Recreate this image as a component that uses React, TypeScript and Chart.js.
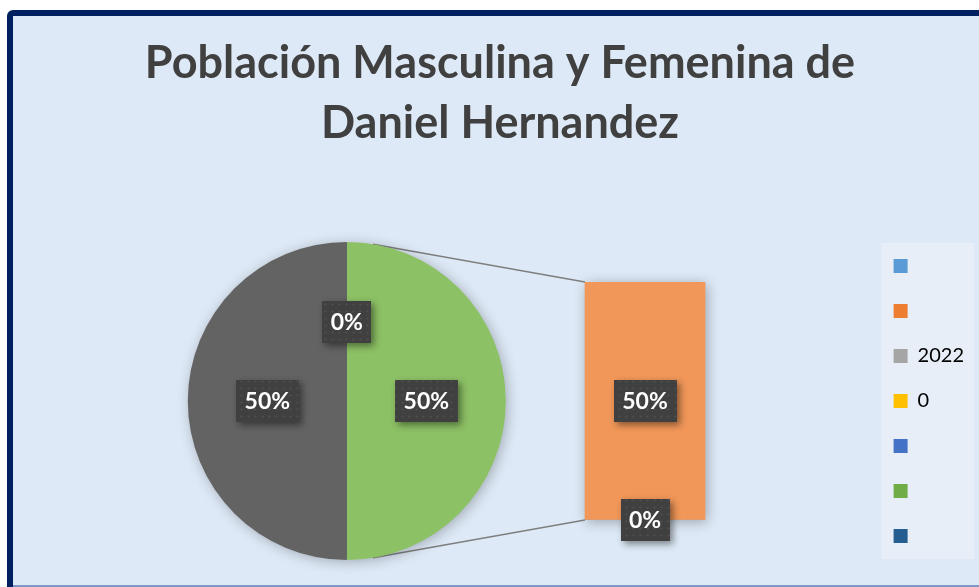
import React, { useEffect, useRef } from "react";
import { Chart, registerables } from "chart.js";

Chart.register(...registerables);

// ---------- data ----------
const titleLines = ["Población Masculina y Femenina de", "Daniel Hernandez"];

const legendLabels = ["", "", "2022", "0", "", "", ""];
const legendColors = ["#5b9bd5", "#ed7d31", "#a5a5a5", "#ffc000", "#4472c4", "#70ad47", "#255e91"];

const pieSliceLabels = ["0", "Otro", "2022"];
const pieSliceValues = [0, 50, 50];
const pieSliceColors = ["#ffc000", "#8dc165", "#636363"];

const barCategory = ["Otro"];
const barSegmentLabels = ["", "0"];
const barSegmentValues = [0, 50];
const barSegmentColors = ["#a5a5a5", "#f19759"];

// ---------- styling / layout ----------
const W = 979;
const H = 587;
const PIE_LEFT = -175; // page x of the pie canvas
const PIE_W = W - PIE_LEFT;
const FONT = "Lato";
const CONNECTOR_INSET = 0.165;

const pieTotal = pieSliceValues.reduce((a, b) => a + b, 0);
const pct = (v: number) => Math.round((v / pieTotal) * 100) + "%";

let dotPattern: CanvasPattern | null = null;
function getPattern(ctx: CanvasRenderingContext2D) {
  if (dotPattern) return dotPattern;
  const c = document.createElement("canvas");
  c.width = 7;
  c.height = 7;
  const g = c.getContext("2d")!;
  g.fillStyle = "rgba(255,255,255,0.09)";
  g.beginPath();
  g.arc(3.5, 3.5, 1.1, 0, Math.PI * 2);
  g.fill();
  dotPattern = ctx.createPattern(c, "repeat");
  return dotPattern;
}

function drawLabel(ctx: CanvasRenderingContext2D, text: string, cx: number, cy: number) {
  ctx.save();
  ctx.font = `bold 23px ${FONT}`;
  const tw = ctx.measureText(text).width;
  const w = Math.round(tw + 17);
  const h = 42;
  const x = Math.round(cx - w / 2);
  const y = Math.round(cy - h / 2);
  ctx.shadowColor = "rgba(0,0,0,0.45)";
  ctx.shadowBlur = 7;
  ctx.shadowOffsetX = 3;
  ctx.shadowOffsetY = 3;
  ctx.fillStyle = "#404040";
  ctx.fillRect(x, y, w, h);
  ctx.shadowColor = "transparent";
  const p = getPattern(ctx);
  if (p) {
    ctx.fillStyle = p;
    ctx.fillRect(x, y, w, h);
  }
  ctx.fillStyle = "#ffffff";
  ctx.textAlign = "center";
  ctx.textBaseline = "middle";
  ctx.fillText(text, cx, cy + 1);
  ctx.restore();
}

export default function App() {
  const barRef = useRef<HTMLCanvasElement | null>(null);
  const pieRef = useRef<HTMLCanvasElement | null>(null);

  useEffect(() => {
    let barChart: Chart | null = null;
    let pieChart: Chart | null = null;
    let cancelled = false;

    const build = () => {
      if (cancelled || !barRef.current || !pieRef.current) return;
      Chart.defaults.font.family = FONT;

      const barDecor = {
        id: "barDecor",
        beforeDatasetsDraw(chart: any) {
          const ctx = chart.ctx as CanvasRenderingContext2D;
          const metas = barSegmentValues.map((_, i) => chart.getDatasetMeta(i).data[0]);
          const top = metas[metas.length - 1];
          const bottom = metas[0];
          const left = top.x - top.width / 2;
          ctx.save();
          ctx.shadowColor = "rgba(0,0,0,0.3)";
          ctx.shadowBlur = 12;
          ctx.shadowOffsetX = 2;
          ctx.shadowOffsetY = 2;
          ctx.fillStyle = barSegmentColors[barSegmentColors.length - 1];
          ctx.fillRect(left, top.y, top.width, bottom.base - top.y);
          ctx.restore();
        },
        afterDatasetsDraw(chart: any) {
          const ctx = chart.ctx as CanvasRenderingContext2D;
          barSegmentValues.forEach((v, i) => {
            const el = chart.getDatasetMeta(i).data[0];
            drawLabel(ctx, pct(v), el.x, (el.y + el.base) / 2);
          });
        },
      };

      barChart = new Chart(barRef.current, {
        type: "bar",
        data: {
          labels: barCategory,
          datasets: barSegmentValues.map((v, i) => ({
            label: barSegmentLabels[i],
            data: [v],
            backgroundColor: barSegmentColors[i],
            borderWidth: 0,
            barThickness: 120,
          })),
        },
        options: {
          animation: false,
          responsive: false,
          layout: { padding: { left: 21, right: 0, top: 0, bottom: 67 } },
          scales: {
            x: { stacked: true, display: false },
            y: {
              stacked: true,
              min: 0,
              max: barSegmentValues.reduce((a, b) => a + b, 0),
              display: true,
              position: "left",
              ticks: { display: false },
              grid: { display: false },
              border: { display: false },
              afterFit: (s: any) => {
                s.width = 290;
              },
            },
          },
          plugins: {
            legend: { display: false },
            tooltip: { enabled: false },
            title: {
              display: true,
              text: titleLines,
              color: "#404040",
              font: { family: FONT, size: 45, weight: "bold", lineHeight: 60 / 45 },
              padding: { top: 33, bottom: 129 },
            },
          },
        },
        plugins: [barDecor],
      } as any);

      const pieDecor = {
        id: "pieDecor",
        beforeDraw(chart: any) {
          const lg = chart.legend;
          if (!lg) return;
          const ctx = chart.ctx as CanvasRenderingContext2D;
          const cy = (lg.top + lg.bottom) / 2;
          ctx.save();
          ctx.fillStyle = "#e7eef7";
          ctx.fillRect(lg.left + 13, cy - 158, lg.right - lg.left - 13, 316);
          ctx.restore();
        },
        beforeDatasetsDraw(chart: any) {
          const ctx = chart.ctx as CanvasRenderingContext2D;
          const arcs = chart.getDatasetMeta(0).data;
          const other = arcs[1];
          // connectors to the bar
          if (barChart) {
            const metas = barSegmentValues.map((_, i) => barChart!.getDatasetMeta(i).data[0] as any);
            const top = metas[metas.length - 1];
            const bottom = metas[0];
            const bx = top.x - top.width / 2 - PIE_LEFT;
            const a1 = other.startAngle + CONNECTOR_INSET;
            const a2 = other.endAngle - CONNECTOR_INSET;
            ctx.save();
            ctx.strokeStyle = "#7f7f7f";
            ctx.lineWidth = 1.5;
            ctx.beginPath();
            ctx.moveTo(other.x + other.outerRadius * Math.cos(a1), other.y + other.outerRadius * Math.sin(a1));
            ctx.lineTo(bx, top.y);
            ctx.moveTo(other.x + other.outerRadius * Math.cos(a2), other.y + other.outerRadius * Math.sin(a2));
            ctx.lineTo(bx, bottom.base);
            ctx.stroke();
            ctx.restore();
          }
          // soft shadow behind the pie
          ctx.save();
          ctx.shadowColor = "rgba(0,0,0,0.3)";
          ctx.shadowBlur = 14;
          ctx.shadowOffsetX = 2;
          ctx.shadowOffsetY = 2;
          ctx.fillStyle = pieSliceColors[2];
          ctx.beginPath();
          ctx.arc(other.x, other.y, other.outerRadius - 1, 0, Math.PI * 2);
          ctx.fill();
          ctx.restore();
        },
        afterDatasetsDraw(chart: any) {
          const ctx = chart.ctx as CanvasRenderingContext2D;
          chart.getDatasetMeta(0).data.forEach((arc: any, i: number) => {
            const p = arc.tooltipPosition();
            drawLabel(ctx, pct(pieSliceValues[i]), p.x, p.y);
          });
        },
      };

      pieChart = new Chart(pieRef.current, {
        type: "pie",
        data: {
          labels: pieSliceLabels,
          datasets: [
            {
              data: pieSliceValues,
              backgroundColor: pieSliceColors,
              borderWidth: 0,
              radius: 159,
            },
          ],
        },
        options: {
          animation: false,
          responsive: false,
          layout: { padding: { left: 0, right: 5, top: 221, bottom: 6 } },
          plugins: {
            tooltip: { enabled: false },
            title: { display: false },
            legend: {
              display: true,
              position: "right",
              labels: {
                boxWidth: 14,
                boxHeight: 14,
                padding: 25,
                color: "#404040",
                font: { family: FONT, size: 20 },
                generateLabels: () =>
                  legendLabels.map((t, i) => ({
                    text: t,
                    fillStyle: legendColors[i],
                    strokeStyle: legendColors[i],
                    lineWidth: 0,
                    hidden: false,
                    index: i,
                  })),
              },
            },
          },
        },
        plugins: [pieDecor],
      } as any);
    };

    const fonts = (document as any).fonts;
    if (fonts && fonts.load) {
      Promise.all([
        fonts.load(`bold 45px ${FONT}`),
        fonts.load(`20px ${FONT}`),
        fonts.load(`bold 23px ${FONT}`),
      ])
        .catch(() => null)
        .then(build);
    } else {
      build();
    }

    return () => {
      cancelled = true;
      if (pieChart) pieChart.destroy();
      if (barChart) barChart.destroy();
    };
  }, []);

  return (
    <div
      style={{
        position: "fixed",
        left: 0,
        top: 0,
        width: W,
        height: H,
        overflow: "hidden",
        background: "#ffffff",
      }}
    >
      <div
        style={{
          position: "absolute",
          left: 7,
          top: 10,
          width: 1100,
          height: 700,
          boxSizing: "border-box",
          border: "6px solid #002060",
          borderRadius: 6,
          background: "#dde9f6",
        }}
      />
      <div
        style={{
          position: "absolute",
          left: 13,
          top: 585,
          width: W,
          height: 2,
          background: "#7f97c6",
        }}
      />
      <canvas
        ref={barRef}
        width={W}
        height={H}
        style={{ position: "absolute", left: 0, top: 0, width: W, height: H }}
      />
      <canvas
        ref={pieRef}
        width={PIE_W}
        height={H}
        style={{ position: "absolute", left: PIE_LEFT, top: 0, width: PIE_W, height: H }}
      />
    </div>
  );
}
